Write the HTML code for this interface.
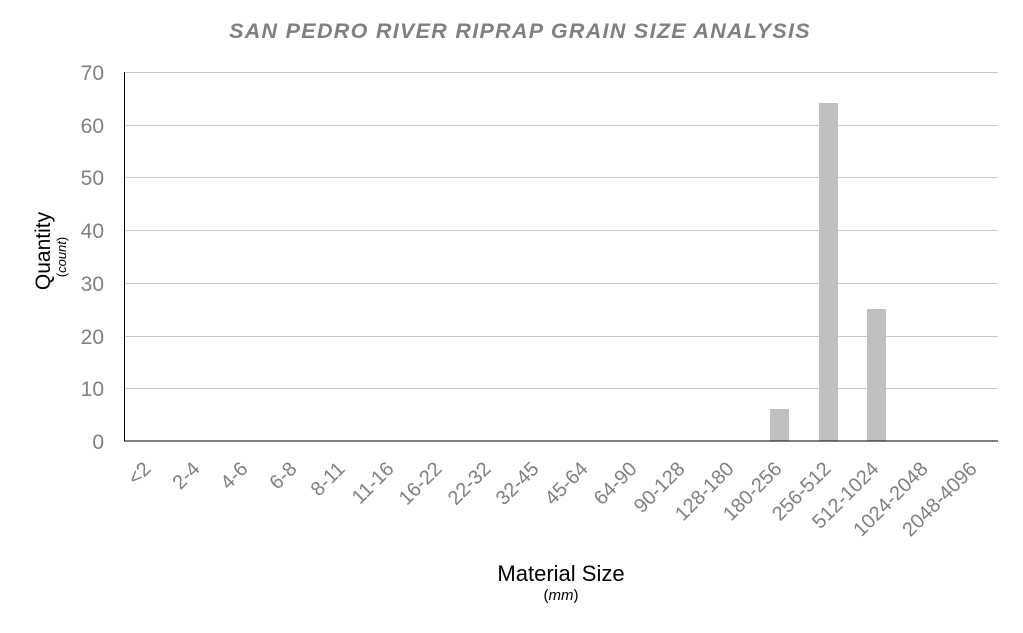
<!DOCTYPE html>
<html><head><style>body{margin:0;background:#fff}svg{display:block}</style></head><body>
<svg width="1023" height="633" xmlns="http://www.w3.org/2000/svg" font-family="Liberation Sans, sans-serif">
<text x="520" y="38" text-anchor="middle" font-size="21.5" font-weight="bold" font-style="italic" fill="#808080" letter-spacing="1.3">SAN PEDRO RIVER RIPRAP GRAIN SIZE ANALYSIS</text>
<g stroke="#c8c8c8" stroke-width="1">
<line x1="124" x2="998" y1="72.5" y2="72.5"/><line x1="124" x2="998" y1="125.5" y2="125.5"/><line x1="124" x2="998" y1="177.5" y2="177.5"/><line x1="124" x2="998" y1="230.5" y2="230.5"/><line x1="124" x2="998" y1="283.5" y2="283.5"/><line x1="124" x2="998" y1="336.5" y2="336.5"/><line x1="124" x2="998" y1="388.5" y2="388.5"/>
</g>
<g fill="#bfbfbf"><rect x="770" y="409" width="19" height="32"/><rect x="819" y="103" width="19" height="338"/><rect x="867" y="309" width="19" height="132"/></g>
<line x1="124.5" x2="124.5" y1="72" y2="441" stroke="#000"/>
<line x1="124" x2="998" y1="441" y2="441" stroke="#000"/>
<g font-size="21" fill="#808080" text-anchor="end">
<text x="104" y="80">70</text><text x="104" y="133">60</text><text x="104" y="185">50</text><text x="104" y="238">40</text><text x="104" y="291">30</text><text x="104" y="344">20</text><text x="104" y="396">10</text><text x="104" y="449">0</text>
</g>
<g font-size="20" fill="#808080" text-anchor="end">
<text transform="translate(152,470) rotate(-45)">&lt;2</text>
<text transform="translate(201,470) rotate(-45)">2-4</text>
<text transform="translate(249,470) rotate(-45)">4-6</text>
<text transform="translate(298,470) rotate(-45)">6-8</text>
<text transform="translate(346,470) rotate(-45)">8-11</text>
<text transform="translate(395,470) rotate(-45)">11-16</text>
<text transform="translate(443,470) rotate(-45)">16-22</text>
<text transform="translate(492,470) rotate(-45)">22-32</text>
<text transform="translate(540,470) rotate(-45)">32-45</text>
<text transform="translate(589,470) rotate(-45)">45-64</text>
<text transform="translate(638,470) rotate(-45)">64-90</text>
<text transform="translate(686,470) rotate(-45)">90-128</text>
<text transform="translate(735,470) rotate(-45)">128-180</text>
<text transform="translate(783,470) rotate(-45)">180-256</text>
<text transform="translate(832,470) rotate(-45)">256-512</text>
<text transform="translate(880,470) rotate(-45)">512-1024</text>
<text transform="translate(929,470) rotate(-45)">1024-2048</text>
<text transform="translate(978,470) rotate(-45)">2048-4096</text>
</g>
<text x="561" y="581" text-anchor="middle" font-size="22" fill="#000">Material Size</text>
<text x="561" y="600" text-anchor="middle" font-size="15" fill="#000">(<tspan font-style="italic">mm</tspan>)</text>
<text transform="translate(50,251) rotate(-90)" text-anchor="middle" font-size="21" fill="#000">Quantity</text>
<text transform="translate(66,257) rotate(-90)" text-anchor="middle" font-size="13" fill="#000">(<tspan font-style="italic">count</tspan>)</text>
</svg>
</body></html>
